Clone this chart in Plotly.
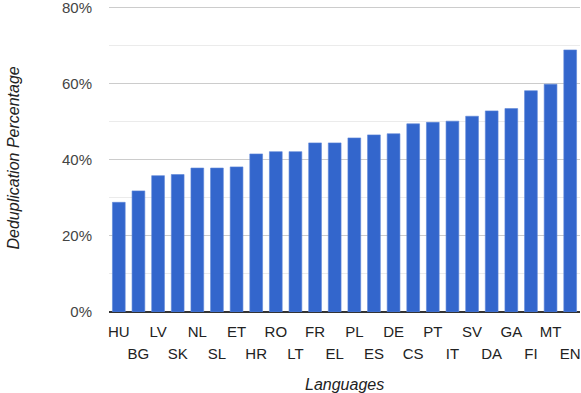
import plotly.graph_objects as go

languages = ["HU", "BG", "LV", "SK", "NL", "SL", "ET", "HR", "RO", "LT", "FR", "EL",
             "PL", "ES", "DE", "CS", "PT", "IT", "SV", "DA", "GA", "FI", "MT", "EN"]
dedup_pct = [28.8, 31.8, 35.8, 36.1, 37.8, 37.8, 38.1, 41.5, 42.1, 42.1, 44.4, 44.4,
             45.7, 46.5, 46.8, 49.4, 49.8, 50.1, 51.4, 52.8, 53.4, 58.1, 59.8, 68.8]
y_ticks = [0, 20, 40, 60, 80]

idx = list(range(len(languages)))
# staggered labels: even ones on the first row, odd ones on a second row (own axis)
row1_vals = idx[0::2]
row2_vals = idx[1::2]

fig = go.Figure(go.Bar(
    x=idx, y=dedup_pct,
    marker=dict(color="#3366cc", line=dict(color="#5c85d6", width=0.6)),
))

x_range = [-0.5, len(languages) - 0.5]

fig.update_layout(
    width=581, height=393,
    margin=dict(l=109, r=1, t=5, b=81),
    plot_bgcolor="white", paper_bgcolor="white",
    bargap=0.35,
    showlegend=False,
    font=dict(family="Liberation Sans, Arial", size=15, color="#444"),
    xaxis=dict(
        range=x_range, tickmode="array",
        tickvals=row1_vals, ticktext=[languages[i] for i in row1_vals],
        tickangle=0, automargin=False, ticks="", showgrid=False, zeroline=False,
        tickfont=dict(size=15, color="#222"), ticklabelstandoff=9,
    ),
    xaxis2=dict(
        range=x_range, overlaying="x", anchor="y", side="bottom",
        tickmode="array",
        tickvals=row2_vals, ticktext=[languages[i] for i in row2_vals],
        tickangle=0, automargin=False, ticks="", showgrid=False, zeroline=False,
        showline=False, tickfont=dict(size=15, color="#222"), ticklabelstandoff=31,
    ),
    yaxis=dict(
        range=[0, 80.6], tickvals=y_ticks, ticktext=[f"{v}%" for v in y_ticks],
        automargin=False, ticklabeloverflow="allow",
        tickfont=dict(size=15, color="#444"),
        gridcolor="#cccccc", gridwidth=1,
        minor=dict(dtick=10, showgrid=True, gridcolor="#ebebeb", gridwidth=1),
        zeroline=True, zerolinecolor="#333333", zerolinewidth=1.5,
        ticklabelstandoff=16,
    ),
    annotations=[
        dict(text="<i>Languages</i>", xref="paper", yref="paper", x=0.5, y=0,
             yshift=-72, showarrow=False, font=dict(size=16, color="#222"),
             xanchor="center", yanchor="middle"),
        dict(text="<i>Deduplication Percentage</i>", xref="paper", yref="paper",
             x=0, y=0.5, xshift=-96, textangle=-90, showarrow=False,
             font=dict(size=16, color="#222"), xanchor="center", yanchor="middle"),
    ],
)

# an empty helper trace so the second label axis is drawn
fig.add_trace(go.Scatter(x=[], y=[], xaxis="x2", yaxis="y", showlegend=False))

fig.write_html("out.html", config={"displayModeBar": False},
               post_script="document.body.style.margin='0px';")
